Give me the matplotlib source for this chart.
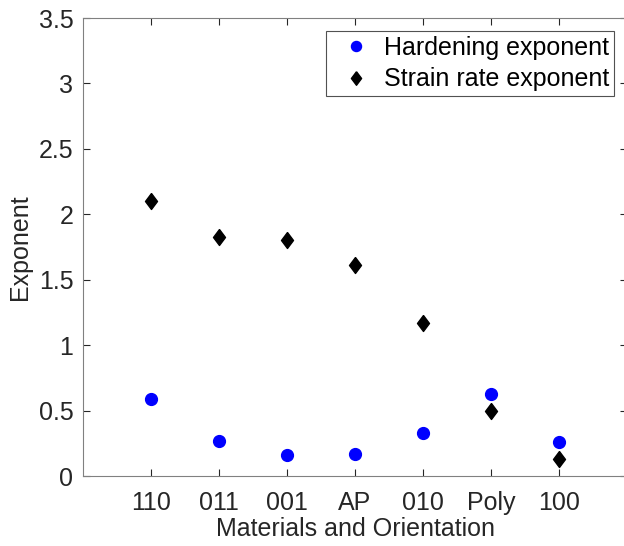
import matplotlib
matplotlib.use('Agg')
import matplotlib.pyplot as plt

categories = ['110', '011', '001', 'AP', '010', 'Poly', '100']
hardening = [0.59, 0.27, 0.16, 0.17, 0.33, 0.63, 0.26]
strain_rate = [2.10, 1.83, 1.80, 1.61, 1.17, 0.50, 0.13]

plt.rcParams['font.family'] = ['Liberation Sans', 'DejaVu Sans']
axis_color = '#262626'

# MATLAB-like diamond (wider than matplotlib's thin diamond)
diamond = [(0, 1), (0.75, 0), (0, -1), (-0.75, 0), (0, 1)]

fig = plt.figure(figsize=(6.24, 5.46), dpi=100)
ax = fig.add_axes([83 / 624, 70 / 546, 544 / 624, 458 / 546])

x = list(range(1, len(categories) + 1))
ax.plot(x, hardening, linestyle='none', marker='o', color='blue', markersize=8.5,
        label='Hardening exponent')
ax.plot(x, strain_rate, linestyle='none', marker=diamond, color='black', markersize=11.5,
        label='Strain rate exponent')

ax.set_xlim(0, 8)
ax.set_ylim(0, 3.5)
ax.set_xticks(x)
ax.set_xticklabels(categories)
ax.set_yticks([0, 0.5, 1, 1.5, 2, 2.5, 3, 3.5])
ax.set_yticklabels(['0', '0.5', '1', '1.5', '2', '2.5', '3', '3.5'])

ax.tick_params(direction='in', top=True, right=True, length=5, width=0.8,
               colors=axis_color, labelsize=18)
ax.tick_params(axis='x', pad=11)
ax.tick_params(axis='y', pad=7)
for s in ax.spines.values():
    s.set_color('#808080')
    s.set_linewidth(0.8)

ax.set_xlabel('Materials and Orientation', fontsize=18, color=axis_color, labelpad=1)
ax.set_ylabel('Exponent', fontsize=18, color=axis_color, labelpad=5)

leg = ax.legend(loc='upper right', bbox_to_anchor=(0.976, 0.972), fontsize=18,
                frameon=True, fancybox=False, handletextpad=0.1, borderpad=0.2,
                labelspacing=0.3, handlelength=2.0, borderaxespad=0,
                markerscale=0.85)
leg.get_frame().set_edgecolor('#262626')
leg.get_frame().set_linewidth(0.8)

fig.savefig('out.png', dpi=100)
plt.close(fig)
